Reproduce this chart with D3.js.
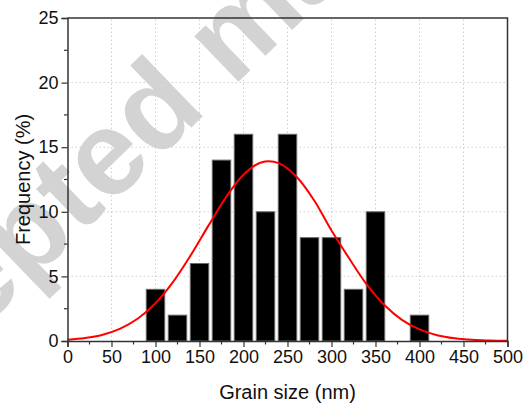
<!DOCTYPE html>
<html>
<head>
<meta charset="utf-8">
<script src="https://cdn.jsdelivr.net/npm/d3@7"></script>
<style>
  html, body { margin: 0; padding: 0; background: #fff; }
  svg { display: block; }
  text { font-family: Arial, "Liberation Sans", sans-serif; }
</style>
</head>
<body>
<svg id="chart" width="525" height="406"></svg>
<script>
// Histogram bins (centre, nm) and frequencies (%)
const binCenters = [100, 125, 150, 175, 200, 225, 250, 275, 300, 325, 350, 375, 400];
const frequencies = [4, 2, 6, 14, 16, 10, 16, 8, 8, 4, 10, 0, 2];
// Fitted curve
const curveX = [0, 20, 40, 60, 80, 100, 120, 140, 160, 180, 200, 220, 240, 260, 280, 300, 320, 340, 360, 380, 400, 420, 440, 460, 480, 500];
const curveY = [0.10, 0.23, 0.49, 0.96, 1.74, 2.92, 4.57, 6.63, 8.91, 11.12, 12.87, 13.82, 13.77, 12.73, 10.91, 8.55, 6.40, 4.38, 2.78, 1.64, 0.90, 0.45, 0.21, 0.09, 0.04, 0.01];
const xTicks = [0, 50, 100, 150, 200, 250, 300, 350, 400, 450, 500];
const yTicks = [0, 5, 10, 15, 20, 25];
const binWidth = 21;

const svg = d3.select("#chart");
const W = 525, H = 406;
const m = { left: 67.5, right: 17.5, top: 18, bottom: 65 };
const x = d3.scaleLinear().domain([0, 500]).range([m.left, W - m.right]);
const y = d3.scaleLinear().domain([0, 25]).range([H - m.bottom, m.top]);

// watermark
svg.append("text")
  .attr("transform", "translate(-180,486) rotate(-44)")
  .attr("font-size", 120)
  .attr("font-weight", "bold")
  .attr("fill", "#d3d3d3")
  .text("Accepted manuscript");

// grid
const g = svg.append("g");
g.selectAll(".gx").data(xTicks.filter(d => d > 0 && d < 500)).enter().append("line")
  .attr("x1", d => x(d)).attr("x2", d => x(d))
  .attr("y1", y(0)).attr("y2", y(25))
  .attr("stroke", "#cfcfcf").attr("stroke-width", 1).attr("stroke-dasharray", "1.5,2.5");
g.selectAll(".gy").data(yTicks.filter(d => d > 0 && d < 25)).enter().append("line")
  .attr("y1", d => y(d)).attr("y2", d => y(d))
  .attr("x1", x(0)).attr("x2", x(500))
  .attr("stroke", "#cfcfcf").attr("stroke-width", 1).attr("stroke-dasharray", "1.5,2.5");

// bars
svg.append("g").selectAll("rect").data(binCenters.map((c, i) => ({ c, v: frequencies[i] })).filter(d => d.v > 0))
  .enter().append("rect")
  .attr("x", d => x(d.c - binWidth / 2))
  .attr("width", d => x(d.c + binWidth / 2) - x(d.c - binWidth / 2))
  .attr("y", d => y(d.v))
  .attr("height", d => y(0) - y(d.v))
  .attr("fill", "#000")
  .attr("stroke", "#6a6a6a")
  .attr("stroke-width", 1);

// curve
const line = d3.line().x((d, i) => x(curveX[i])).y(d => y(d)).curve(d3.curveCatmullRom.alpha(0.5));
svg.append("path").datum(curveY).attr("d", line)
  .attr("fill", "none").attr("stroke", "#ff0000").attr("stroke-width", 2);

// axes
const axColor = "#333";
const xAxis = svg.append("g").attr("transform", `translate(0,${y(0)})`)
  .call(d3.axisBottom(x).tickValues(xTicks).tickSize(6).tickPadding(3).tickFormat(d3.format("d")));
const yAxis = svg.append("g").attr("transform", `translate(${x(0)},0)`)
  .call(d3.axisLeft(y).tickValues(yTicks).tickSize(6).tickPadding(3).tickFormat(d3.format("d")));
[xAxis, yAxis].forEach(a => {
  a.select(".domain").attr("stroke", axColor).attr("stroke-width", 1.5);
  a.selectAll(".tick line").attr("stroke", axColor).attr("stroke-width", 1.2);
  a.selectAll(".tick text").attr("fill", "#111").attr("font-size", 18).style("font-family", "Arial, 'Liberation Sans', sans-serif");
});
// minor ticks
const xMinor = d3.range(25, 500, 50);
svg.append("g").selectAll("line").data(xMinor).enter().append("line")
  .attr("x1", d => x(d)).attr("x2", d => x(d)).attr("y1", y(0)).attr("y2", y(0) + 3.5)
  .attr("stroke", axColor).attr("stroke-width", 1.2);
const yMinor = d3.range(2.5, 25, 5);
svg.append("g").selectAll("line").data(yMinor).enter().append("line")
  .attr("y1", d => y(d)).attr("y2", d => y(d)).attr("x1", x(0)).attr("x2", x(0) - 3.5)
  .attr("stroke", axColor).attr("stroke-width", 1.2);
// frame
svg.append("path")
  .attr("d", `M${x(0)},${y(25)}H${x(500)}V${y(0)}`)
  .attr("fill", "none").attr("stroke", axColor).attr("stroke-width", 1.5);

// titles
svg.append("text").attr("x", (x(0) + x(500)) / 2).attr("y", 399)
  .attr("text-anchor", "middle").attr("font-size", 20).attr("fill", "#111")
  .text("Grain size (nm)");
svg.append("text").attr("transform", `translate(30,${(y(0) + y(25)) / 2}) rotate(-90)`)
  .attr("text-anchor", "middle").attr("font-size", 20).attr("fill", "#111")
  .text("Frequency (%)");
</script>
</body>
</html>
